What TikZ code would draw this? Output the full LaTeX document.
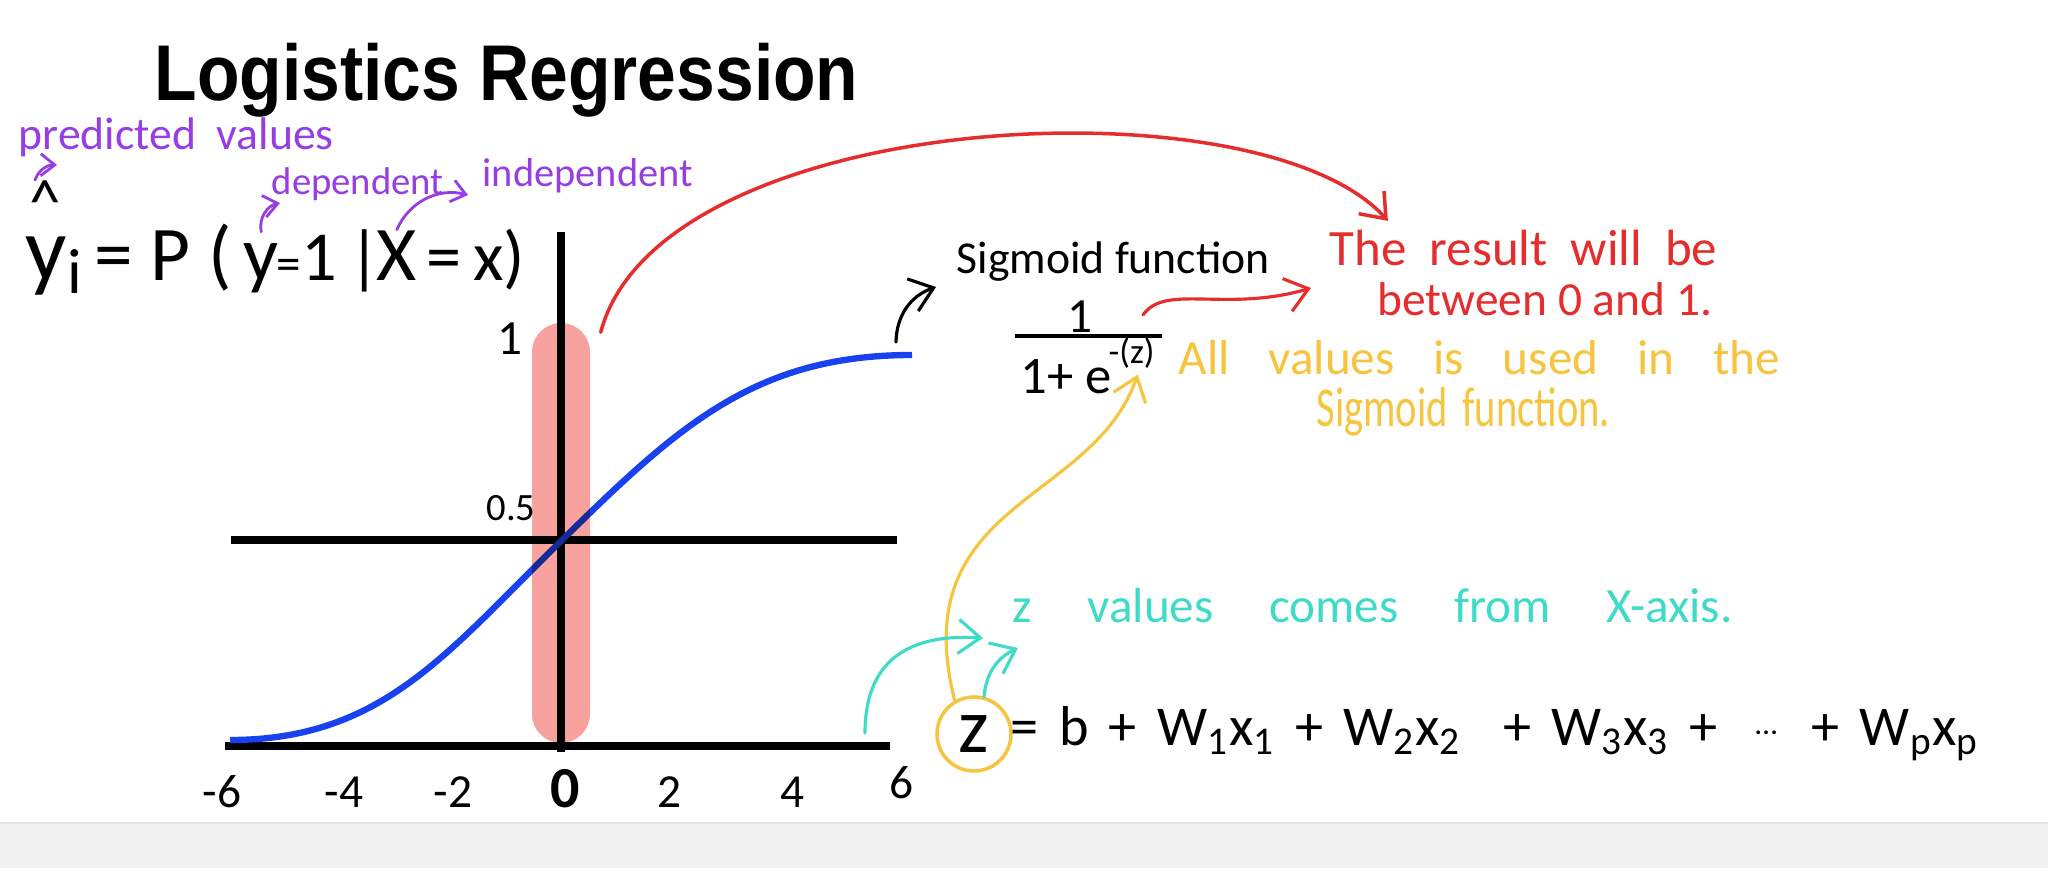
\documentclass[tikz,border=0pt]{standalone}
\usepackage{fontspec}
\setmainfont{Carlito}
\newfontfamily\titlefont[FakeStretch=0.88]{Liberation Sans}
\usetikzlibrary{arrows.meta}
\definecolor{penpurple}{RGB}{150,62,228}
\definecolor{penred}{RGB}{229,45,45}
\definecolor{penyellow}{RGB}{246,196,62}
\definecolor{pencyan}{RGB}{64,219,200}
\definecolor{curveblue}{RGB}{24,66,240}
\definecolor{pillpink}{RGB}{248,162,160}
\definecolor{bandgray}{RGB}{241,241,241}
\definecolor{bandline}{RGB}{228,228,228}
\begin{document}
\begin{tikzpicture}[
  handtext/.style={inner sep=0pt, font=\fontsize{#1}{#1}\selectfont},
  wide/.style={execute at begin node={\spaceskip=#1\fontdimen2\font\relax}},
  penarrow/.style={line width=0.9pt, line cap=round, -{Straight Barb[length=2.2mm,width=3.4mm]}},
  smallarrow/.style={line width=0.8pt, line cap=round, -{Straight Barb[length=1.4mm,width=2.2mm]}},
  axisline/.style={line width=2pt}
]
\useasboundingbox (0,0) rectangle (20.48,8.68);
\fill[white] (0,0) rectangle (20.48,8.68);
\fill[bandgray] (0,0) rectangle (20.48,0.45);
\draw[bandline, line width=0.6pt] (0,0.45) -- (20.48,0.45);

% title
\node[anchor=base west, inner sep=0pt, font=\titlefont\bfseries\fontsize{22.5}{24}\selectfont] (title) at (1.54,7.68) {Logistics Regression};

% the model
\node[handtext=13, wide=2, penpurple, anchor=base west] (pred) at (0.18,7.18) {predicted values};
\node[handtext=18, anchor=base] (hat) at (0.45,6.66) {\raisebox{-0.34em}[0.29em][0pt]{\textasciicircum}};
\node[handtext=26, anchor=base west] (yhat) at (0.25,5.88) {y\textsubscript{i}};
\node[handtext=22, anchor=base west] (lhs) at (0.94,5.88) {= P (};
\node[handtext=22, anchor=base west] (ydep) at (2.43,5.88) {y};
\node[handtext=20, anchor=base west] (cond) at (2.76,5.88) {{\fontsize{14}{14}\selectfont=}1\,|};
\node[handtext=22, anchor=base west] (xind) at (3.76,5.88) {X};
\node[handtext=20, anchor=base west] (rhs) at (4.26,5.88) {=\,x)};
\node[handtext=11, penpurple, anchor=base west] (dep) at (2.71,6.73) {dependent};
\node[handtext=11.5, penpurple, anchor=base west] (indep) at (4.82,6.81) {independent};
\draw[smallarrow, penpurple] ([shift={(-0.1,0.03)}]hat.north) to[bend left=35] ([shift={(0.39,-0.15)}]pred.base west);
\draw[smallarrow, penpurple] ([yshift=3pt]ydep.north) to[bend left=45] ([shift={(0.09,-0.08)}]dep.base west);
\draw[smallarrow, penpurple] (xind.north) to[bend left=40] ([shift={(-0.14,-0.08)}]indep.base west);

% graph
\draw[axisline] (5.61,1.16) -- (5.61,6.36);
\draw[axisline] (2.25,1.22) -- (8.90,1.22);
\draw[axisline] (2.31,3.28) -- (8.97,3.28);
\draw[curveblue, line width=1.8pt] (2.30,1.28) .. controls (3.80,1.28) and (4.45,2.13) .. (5.55,3.21)
  .. controls (6.75,4.39) and (7.52,5.13) .. (9.12,5.13) coordinate (sigtop);
\node[fill=pillpink, blend mode=multiply, rounded corners=2.9mm, minimum width=0.58cm, minimum height=4.2cm, inner sep=0pt] (band) at (5.61,3.35) {};
\node[handtext=14] (yone) at (5.10,5.29) {1};
\node[handtext=11] (yhalf) at (5.11,3.60) {0.5};
\node[handtext=13.5] (xm6) at (2.22,0.76) {-6};
\node[handtext=13.5] (xm4) at (3.44,0.76) {-4};
\node[handtext=13.5] (xm2) at (4.53,0.76) {-2};
\node[handtext=16.5, font=\bfseries\fontsize{16.5}{16.5}\selectfont] (xzero) at (5.65,0.79) {0};
\node[handtext=13.5] (xp2) at (6.70,0.76) {2};
\node[handtext=13.5] (xp4) at (7.93,0.76) {4};
\node[handtext=13.5] (xp6) at (9.02,0.85) {6};

% sigmoid
\node[handtext=13, anchor=base west] (sig) at (9.56,5.95) {Sigmoid function};
\draw[penarrow] ([shift={(-0.16,0.13)}]sigtop) to[bend left=35] ([shift={(-0.2,-0.14)}]sig.base west);
\node[handtext=14] (num) at (10.80,5.51) {1};
\draw[line width=0.9pt] (10.15,5.32) coordinate (barL) -- (11.62,5.32) coordinate (barR);
\node[handtext=15, anchor=base west] (den) at (10.20,4.75) {1+ e};
\node[handtext=10, anchor=base west] (expo) at (11.08,5.05) {-(z)};

% result
\node[handtext=14.5, wide=2, penred, anchor=base east] (res1) at (17.18,6.02) {The result will be};
\node[handtext=13.5, wide=1, penred, anchor=base east] (res2) at (17.13,5.52) {between 0 and 1.};
\draw[penarrow, penred, line width=1pt] ([shift={(0.10,-0.10)}]band.north east) .. controls (6.6,7.6) and (12.6,7.9) .. ([shift={(0.59,0.09)}]res1.north west);
\draw[penarrow, penred] ([shift={(-0.19,0.21)}]barR) .. controls +(0.22,0.32) and +(-0.85,-0.25) .. ([shift={(-0.18,-0.22)}]res1.base west);

% z
\node[handtext=14, wide=3.5, penyellow, anchor=base west] (allv) at (11.78,4.93) {All values is used in the};
\node[handtext=16, wide=1.6, penyellow, anchor=base west] (allv2) at (13.16,4.41) {\scalebox{0.72}[1]{Sigmoid function.}};
\node[handtext=22, circle, draw=penyellow, line width=1pt, minimum size=0.74cm] (zv) at (9.74,1.34) {z};
\node[handtext=16, wide=1.6, anchor=base west] (zeq) at (10.10,1.23) {= b + W\textsubscript{1}x\textsubscript{1} + W\textsubscript{2}x\textsubscript{2}\hspace{6pt} + W\textsubscript{3}x\textsubscript{3} +\hspace{5pt} \raisebox{3pt}{\fontsize{9}{9}\selectfont\textellipsis}\hspace{4pt} + W\textsubscript{p}x\textsubscript{p}};
\draw[penarrow, penyellow] (zv.120) .. controls +(-0.5,2.0) and +(-0.45,-1.3) .. ([shift={(0.06,-0.06)}]expo.south);
\node[handtext=14, wide=5, pencyan, anchor=base west] (zfrom) at (10.12,2.46) {z values comes from X-axis.};
\coordinate (xfoot) at (8.65,1.35);
\draw[penarrow, pencyan] (xfoot) .. controls +(0,0.65) and +(-0.83,0.05) .. ([shift={(-0.29,-0.16)}]zfrom.base west);
\draw[penarrow, pencyan] (zv.75) to[bend left=30] ([shift={(0.06,-0.26)}]zfrom.base west);
\end{tikzpicture}
\end{document}
